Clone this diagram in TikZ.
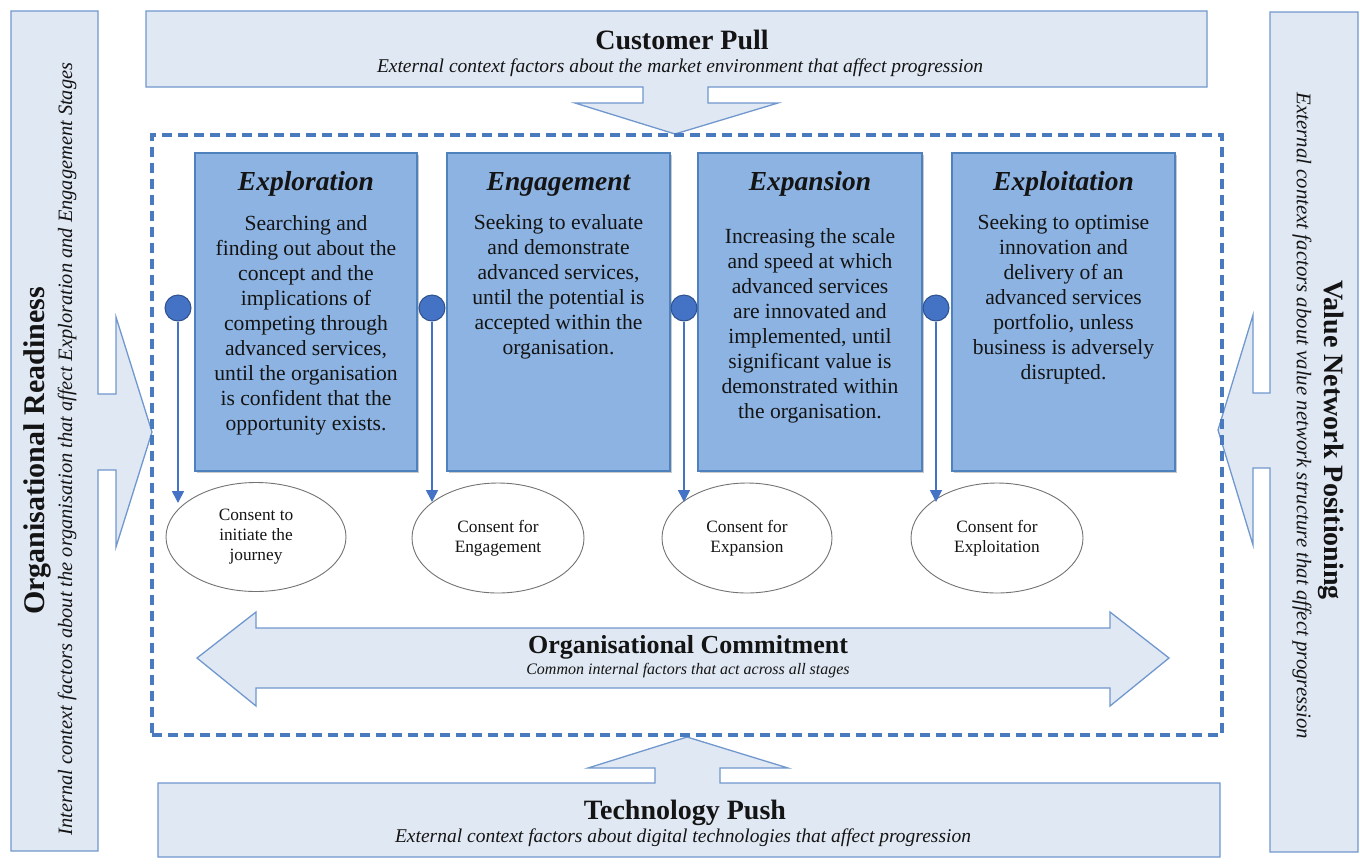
\documentclass[tikz,border=0pt]{standalone}
\usepackage{fontspec}
\setmainfont{Liberation Serif}
\usetikzlibrary{arrows.meta,shapes.geometric,shadows}
\definecolor{stagefill}{RGB}{141,179,226}
\definecolor{stageedge}{RGB}{79,129,189}
\definecolor{outerfill}{RGB}{224,232,243}
\definecolor{outeredge}{RGB}{112,152,206}
\definecolor{dashcol}{RGB}{74,122,190}
\definecolor{circfill}{RGB}{68,114,196}
\definecolor{circedge}{RGB}{47,82,143}
\definecolor{txtcol}{RGB}{20,20,20}
\newcommand\myTitleFont{\fontsize{28}{32}\selectfont\bfseries}
\newcommand\mySubFont{\fontsize{19.5}{22}\selectfont\itshape}
\newcommand\myStageTitle{\fontsize{27.5}{31}\selectfont\bfseries\itshape}
\newcommand\myBodyFont{\fontsize{21.6}{25}\selectfont}
\newcommand\myEllFont{\fontsize{17.3}{20}\selectfont}
\begin{document}
\begin{tikzpicture}[x=1pt,y=-1pt,
  outer/.style={draw=outeredge,line width=1.3pt,fill=outerfill,line join=miter},
  stagebox/.style={draw=stageedge,line width=1.2pt,fill=stagefill,rectangle,inner sep=0,
    drop shadow={shadow xshift=2pt,shadow yshift=-2pt,opacity=0.35,fill=black!60}},
  dashbox/.style={draw=dashcol,line width=3.2pt,dash pattern=on 10pt off 6pt,rectangle,inner sep=0},
  stagetitle/.style={text=txtcol,font=\myStageTitle,inner sep=0},
  stagebody/.style={text=txtcol,font=\myBodyFont,align=center,inner sep=0},
  bigtitle/.style={text=txtcol,font=\myTitleFont,inner sep=0},
  subtitle/.style={text=txtcol,font=\mySubFont,inner sep=0},
  gate/.style={circle,draw=circedge,line width=1pt,fill=circfill,minimum size=26pt,inner sep=0},
  consent/.style={ellipse,draw=black!55,line width=0.9pt,fill=white,inner sep=0,
    text=txtcol,font=\myEllFont,align=center},
  flow/.style={draw=circfill,line width=1.6pt,-{Triangle[width=12pt,length=12pt]}}
]
\useasboundingbox (0,0) rectangle (1360,863);
% outer context shapes
\draw[outer] (146,11) -- (1207,11) -- (1207,87) -- (708,87) -- (708,103) -- (778,103)
  -- (675,134) -- (575,103) -- (643,103) -- (643,87) -- (146,87) -- cycle;
\draw[outer] (158,783) -- (655,783) -- (655,768) -- (588,768) -- (687,737) -- (788,768)
  -- (720,768) -- (720,783) -- (1220,783) -- (1220,857) -- (158,857) -- cycle;
\draw[outer] (11,11) -- (98,11) -- (98,394) -- (116,394) -- (116,317) -- (152,432)
  -- (116,547) -- (116,470) -- (98,470) -- (98,851) -- (11,851) -- cycle;
\draw[outer] (1358,12) -- (1270,12) -- (1270,393) -- (1253,393) -- (1253,315) -- (1218,430)
  -- (1253,545) -- (1253,468) -- (1270,468) -- (1270,852) -- (1358,852) -- cycle;
% dashed frame
\node[dashbox,minimum width=1070pt,minimum height=600pt] (frame) at (687,435) {};
% commitment double arrow
\draw[outer] (197,658) -- (256,612) -- (256,628) -- (1110,628) -- (1110,612) -- (1169,658)
  -- (1110,706) -- (1110,688) -- (256,688) -- (256,706) -- cycle;
% outer texts
\node[bigtitle] (cpT) at (682,40) {Customer Pull};
\node[subtitle] (cpS) at (680,68) {External context factors about the market environment that affect progression};
\node[bigtitle] (tpT) at (685,813) {Technology Push};
\node[subtitle] (tpS) at (683,838) {External context factors about digital technologies that affect progression};
\node[bigtitle,font=\fontsize{30}{34}\selectfont\bfseries,rotate=90] (orT) at (37,451) {Organisational Readiness};
\node[subtitle,font=\fontsize{20.4}{23}\selectfont\itshape,rotate=90] (orS) at (67,449) {Internal context factors about the organisation that affect Exploration and Engagement Stages};
\node[bigtitle,rotate=-90] (vnT) at (1331,440) {Value Network Positioning};
\node[subtitle,font=\fontsize{20.8}{23}\selectfont\itshape,rotate=-90] (vnS) at (1302,416) {External context factors about value network structure that affect progression};
\node[text=txtcol,font=\fontsize{26}{30}\selectfont\bfseries,inner sep=0] (ocT) at (688,647) {Organisational Commitment};
\node[text=txtcol,font=\fontsize{16}{19}\selectfont\itshape,inner sep=0] (ocS) at (688,671) {Common internal factors that act across all stages};
% stage boxes
\node[stagebox,minimum width=222pt,minimum height=318pt] (b1) at (306,312) {};
\node[stagebox,minimum width=223pt,minimum height=318pt] (b2) at (558.5,312) {};
\node[stagebox,minimum width=224pt,minimum height=318pt] (b3) at (810,312) {};
\node[stagebox,minimum width=223pt,minimum height=318pt] (b4) at (1063.5,312) {};
\node[stagetitle,anchor=base] (t1) at (306,190) {Exploration};
\node[stagetitle,anchor=base] (t2) at (558.5,190) {Engagement};
\node[stagetitle,anchor=base] (t3) at (810,190) {Expansion};
\node[stagetitle,anchor=base] (t4) at (1063.5,190) {Exploitation};
\node[stagebody,anchor=north] (d1) at (306,215) {Searching and\\finding out about the\\concept and the\\implications of\\competing through\\advanced services,\\until the organisation\\is confident that the\\opportunity exists.};
\node[stagebody,anchor=north] (d2) at (558.5,214) {Seeking to evaluate\\and demonstrate\\advanced services,\\until the potential is\\accepted within the\\organisation.};
\node[stagebody,anchor=north] (d3) at (810,228) {Increasing the scale\\and speed at which\\advanced services\\are innovated and\\implemented, until\\significant value is\\demonstrated within\\the organisation.};
\node[stagebody,anchor=north] (d4) at (1063.5,214) {Seeking to optimise\\innovation and\\delivery of an\\advanced services\\portfolio, unless\\business is adversely\\disrupted.};
% consent ellipses
\node[consent,minimum width=180pt,minimum height=109pt] (e1) at (256,537) {Consent to\\initiate the\\journey};
\node[consent,minimum width=172pt,minimum height=110pt] (e2) at (498,538) {Consent for\\Engagement};
\node[consent,minimum width=170pt,minimum height=110pt] (e3) at (747,538) {Consent for\\Expansion};
\node[consent,minimum width=172pt,minimum height=110pt] (e4) at (997,538) {Consent for\\Exploitation};
% gates and flows
\node[gate] (g1) at (178,308) {};
\node[gate] (g2) at (432,308) {};
\node[gate] (g3) at (684,308) {};
\node[gate] (g4) at (936,308) {};
\coordinate (f1) at (178,503);
\coordinate (f2) at (432,502);
\coordinate (f3) at (684,502);
\coordinate (f4) at (936,502);
\draw[flow] (g1) -- (f1);
\draw[flow] (g2) -- (f2);
\draw[flow] (g3) -- (f3);
\draw[flow] (g4) -- (f4);
\end{tikzpicture}
\end{document}
